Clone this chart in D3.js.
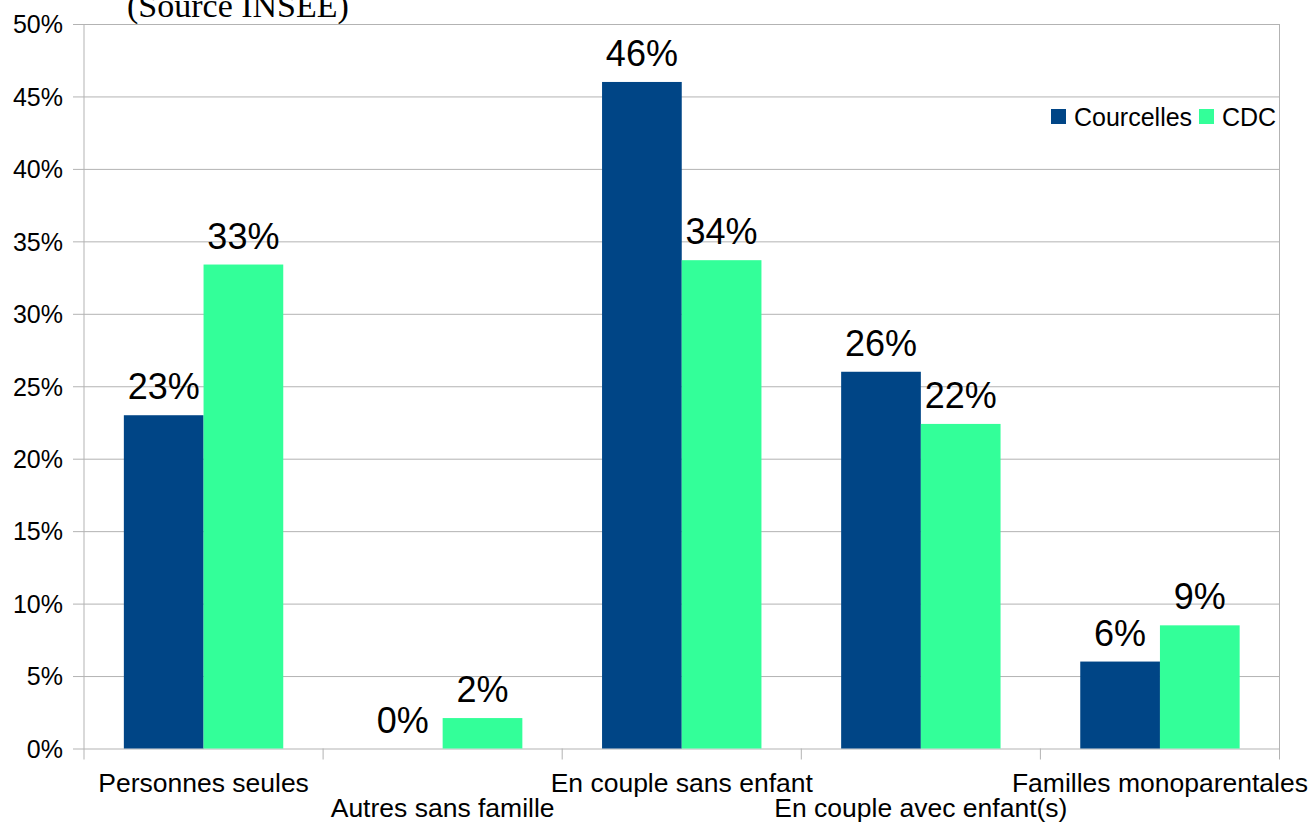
<!DOCTYPE html>
<html>
<head>
<meta charset="utf-8">
<script src="https://cdn.jsdelivr.net/npm/d3@7"></script>
<style>
  html, body { margin: 0; padding: 0; background: #fff; }
  svg { display: block; font-family: "Liberation Sans", Arial, sans-serif; }
</style>
</head>
<body>
<svg id="chart" width="1311" height="825"></svg>
<script>
// Household structure, share of households (%)
const categories = [
  "Personnes seules",
  "Autres sans famille",
  "En couple sans enfant",
  "En couple avec enfant(s)",
  "Familles monoparentales"
];
const seriesNames = ["Courcelles", "CDC"];
const courcelles = [23.0, 0.0, 46.0, 26.0, 6.0];
const cdc = [33.4, 2.1, 33.7, 22.4, 8.5];
const yTicks = [0, 5, 10, 15, 20, 25, 30, 35, 40, 45, 50];
const colors = ["#004586", "#33ff99"];
const sourceNote = "(Source INSEE)";

const svg = d3.select("#chart");
const plotLeft = 84, plotRight = 1279.5, plotTop = 24, plotBottom = 748.5;
const grid = "#b3b3b3";

const x = d3.scaleBand().domain(categories).range([plotLeft, plotRight]);
const sub = d3.scaleBand().domain(seriesNames)
  .range([x.bandwidth() / 6, x.bandwidth() * 5 / 6]);
const y = d3.scaleLinear().domain([0, 50]).range([plotBottom, plotTop]);
const color = d3.scaleOrdinal().domain(seriesNames).range(colors);
const fmt = v => d3.format(".0f")(v) + "%";

// horizontal gridlines with left tick marks
const yAxis = d3.axisLeft(y).tickValues(yTicks).tickSize(-(plotRight - plotLeft))
  .tickPadding(21).tickFormat(d => d + "%");
const gy = svg.append("g").attr("transform", `translate(${plotLeft},0)`).call(yAxis);
gy.select(".domain").remove();
gy.selectAll(".tick line").attr("stroke", grid).attr("x1", -11);
gy.selectAll(".tick text").attr("font-size", 25).attr("fill", "#000")
  .attr("font-family", "Liberation Sans, Arial, sans-serif").attr("dy", "0.35em");

// vertical frame lines
svg.append("line").attr("x1", plotLeft).attr("x2", plotLeft)
  .attr("y1", plotTop).attr("y2", plotBottom + 11).attr("stroke", grid);
svg.append("line").attr("x1", plotRight).attr("x2", plotRight)
  .attr("y1", plotTop).attr("y2", plotBottom + 11).attr("stroke", grid);

// category separators below the baseline
const seps = categories.slice(1).map(c => x(c));
svg.selectAll("line.sep").data(seps).join("line").attr("class", "sep")
  .attr("x1", d => d).attr("x2", d => d).attr("y1", plotBottom).attr("y2", plotBottom + 11)
  .attr("stroke", grid);

// bars
const data = categories.map((c, i) => ({ cat: c, values: [
  { name: seriesNames[0], v: courcelles[i] },
  { name: seriesNames[1], v: cdc[i] }
]}));

const groups = svg.selectAll("g.cat").data(data).join("g").attr("class", "cat")
  .attr("transform", d => `translate(${x(d.cat)},0)`);

groups.selectAll("rect").data(d => d.values).join("rect")
  .attr("x", d => sub(d.name))
  .attr("width", sub.bandwidth())
  .attr("y", d => y(d.v))
  .attr("height", d => y(0) - y(d.v))
  .attr("fill", d => color(d.name));

groups.selectAll("text.val").data(d => d.values).join("text").attr("class", "val")
  .attr("x", d => sub(d.name) + sub.bandwidth() / 2)
  .attr("y", d => y(d.v) - 16)
  .attr("text-anchor", "middle")
  .attr("font-size", 36)
  .attr("fill", "#000")
  .text(d => fmt(d.v));

// category labels, staggered on two rows
svg.selectAll("text.cat").data(categories).join("text").attr("class", "cat")
  .attr("x", d => x(d) + x.bandwidth() / 2)
  .attr("y", (d, i) => i % 2 === 0 ? 792 : 817)
  .attr("text-anchor", "middle")
  .attr("font-size", 26.5)
  .attr("fill", "#000")
  .text(d => d);

// legend
const legend = svg.append("g");
const legendItems = [
  { name: seriesNames[0], sx: 1051, tx: 1074 },
  { name: seriesNames[1], sx: 1199, tx: 1222 }
];
legend.selectAll("rect").data(legendItems).join("rect")
  .attr("x", d => d.sx).attr("y", 109).attr("width", 15).attr("height", 15)
  .attr("fill", d => color(d.name));
legend.selectAll("text").data(legendItems).join("text")
  .attr("x", d => d.tx).attr("y", 126)
  .attr("font-size", 25).attr("fill", "#000")
  .text(d => d.name);

// source note at the top
svg.append("text")
  .attr("x", 127).attr("y", 17)
  .attr("font-family", "Liberation Serif, 'Times New Roman', serif")
  .attr("font-size", 34)
  .attr("fill", "#000")
  .text(sourceNote);
</script>
</body>
</html>
